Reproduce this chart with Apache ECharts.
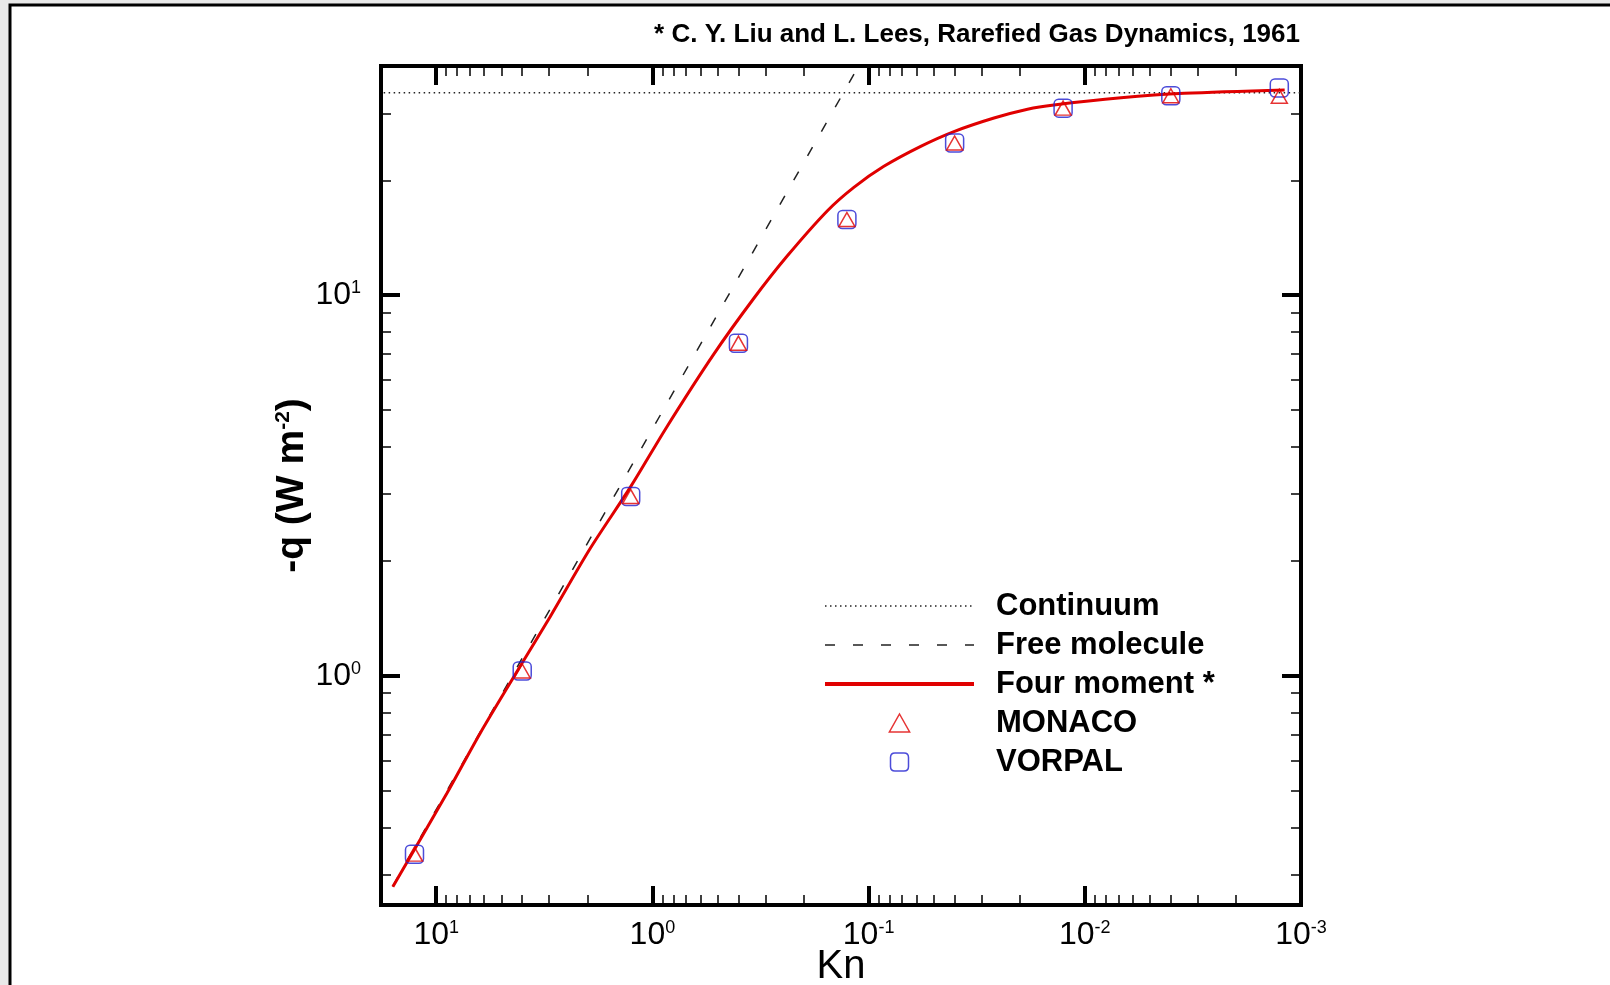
<!DOCTYPE html>
<html><head><meta charset="utf-8">
<script src="https://cdn.jsdelivr.net/npm/echarts@6/dist/echarts.min.js"></script>
<style>html,body{margin:0;padding:0;background:#fff}#c{width:1610px;height:985px}</style>
</head><body><div id="c"></div><script>
// ---- tick labels / tick positions ----
const xMajor = [10, 1, 0.1, 0.01, 0.001];
const xMajorExp = ['1', '0', '-1', '-2', '-3'];
const xMinor = [0.002,0.003,0.004,0.005,0.006,0.007,0.008,0.009,
                0.02,0.03,0.04,0.05,0.06,0.07,0.08,0.09,
                0.2,0.3,0.4,0.5,0.6,0.7,0.8,0.9,
                2,3,4,5,6,7,8,9];
const yMajor = [1, 10];
const yMajorExp = ['0', '1'];
const yMinor = [0.3,0.4,0.5,0.6,0.7,0.8,0.9,2,3,4,5,6,7,8,9,20,30];

// ---- data ----
const knPoints = [12.6, 4.0, 1.26, 0.40, 0.126, 0.040, 0.0126, 0.0040, 0.00126];
const monacoQ  = [0.340, 1.03, 2.96, 7.48, 15.8, 25.1, 31.0, 33.4, 33.3];
const vorpalQ  = [0.340, 1.03, 2.96, 7.48, 15.8, 25.1, 31.0, 33.4, 35.0];
const fourMomentKn = [15.87, 8.92, 6.26, 4.01, 2.97, 1.94, 1.26, 0.855, 0.52, 0.34, 0.238, 0.155, 0.117, 0.085, 0.0574, 0.0403, 0.0263, 0.0184, 0.0139, 0.0068, 0.00347, 0.00119];
const fourMomentQ  = [0.279, 0.4915, 0.707, 1.079, 1.43, 2.16, 3.14, 4.52, 7.00, 9.80, 12.67, 16.67, 19.2, 21.8, 24.6, 26.9, 29.2, 30.8, 31.6, 33.0, 33.9, 34.6];
const continuumKn = [17.5, 0.001];
const continuumQ  = [34, 34];
const freeMolKn = [15.9, 0.1112];
const freeMolQ  = [0.28, 40];

const FONT = '"Liberation Sans", Arial, sans-serif';
const zip = (a, b) => a.map((v, i) => [v, b[i]]);
const expOf = (list, exps, v) => {
  let best = 0, d = Infinity;
  list.forEach((m, i) => { const dd = Math.abs(Math.log10(m) - Math.log10(v)); if (dd < d) { d = dd; best = i; } });
  return exps[best];
};
const richLbl = {
  b: {fontSize: 32, lineHeight: 32, fontFamily: FONT, color: '#000', verticalAlign: 'top'},
  s: {fontSize: 18, lineHeight: 18, fontFamily: FONT, color: '#000', verticalAlign: 'top'}
};

function axis(isX, pos, major, label, extra) {
  const a = {
    type: 'log', logBase: 10, position: pos,
    min: isX ? 0.001 : 0.25, max: isX ? 18 : 40,
    inverse: isX,
    axisLine: {show: false},
    splitLine: {show: false},
    axisTick: {
      show: true, inside: true,
      customValues: major ? (isX ? xMajor : yMajor) : (isX ? xMinor : yMinor),
      length: major ? 19 : 10,
      lineStyle: {color: '#000', width: major ? 4 : 1.5}
    },
    axisLabel: {show: false},
    silent: true
  };
  if (label) {
    a.axisLabel = {
      show: true,
      customValues: isX ? xMajor : yMajor,
      margin: isX ? 14 : 20,
      formatter: v => '{b|10}{s|' + (isX ? expOf(xMajor, xMajorExp, v) : expOf(yMajor, yMajorExp, v)) + '}',
      rich: richLbl
    };
  }
  return Object.assign(a, extra || {});
}

const hiddenDot = {color: 'rgba(0,0,0,0)', borderWidth: 0, opacity: 0};
const TRI_ICON = 'path://M9,0 L18,16 L0,16 Z';
const RR_ICON = 'path://M4.5,0 L13.5,0 Q18,0 18,4.5 L18,13.5 Q18,18 13.5,18 L4.5,18 Q0,18 0,13.5 L0,4.5 Q0,0 4.5,0 Z';

const chart = echarts.init(document.getElementById('c'), null, {renderer: 'canvas'});
chart.setOption({
  animation: false,
  backgroundColor: '#e9e9e9',
  graphic: [{
    type: 'rect', z: -100, silent: true,
    shape: {x: 10, y: 5, width: 1700, height: 1100},
    style: {fill: '#fff', stroke: '#000', lineWidth: 3}
  }],
  title: {
    text: '* C. Y. Liu and L. Lees, Rarefied Gas Dynamics, 1961',
    right: 310, top: 22, padding: 0,
    textStyle: {fontFamily: FONT, fontWeight: 'bold', fontSize: 26, color: '#000'}
  },
  grid: {
    left: 381, top: 66, width: 920, height: 839,
    containLabel: false, outerBoundsMode: 'none',
    show: true, borderColor: '#000', borderWidth: 4, backgroundColor: 'transparent'
  },
  xAxis: [
    axis(true, 'bottom', true, true, {
      name: 'Kn', nameLocation: 'middle', nameGap: 42, nameMoveOverlap: false,
      nameTextStyle: {fontFamily: FONT, fontSize: 40, lineHeight: 40, color: '#000'}
    }),
    axis(true, 'bottom', false, false),
    axis(true, 'top', true, false),
    axis(true, 'top', false, false)
  ],
  yAxis: [
    axis(false, 'left', true, true, {
      name: '{a|-q (W m}{s|-2}{a|)}', nameLocation: 'middle', nameGap: 68, nameRotate: 90, nameMoveOverlap: false,
      nameTextStyle: {
        fontFamily: FONT, fontSize: 39, color: '#000',
        rich: {
          a: {fontFamily: FONT, fontSize: 39, fontWeight: 'bold', lineHeight: 40, color: '#000', verticalAlign: 'top'},
          s: {fontFamily: FONT, fontSize: 21, fontWeight: 'bold', lineHeight: 21, color: '#000', verticalAlign: 'top'}
        }
      }
    }),
    axis(false, 'left', false, false),
    axis(false, 'right', true, false),
    axis(false, 'right', false, false)
  ],
  legend: {
    orient: 'vertical', left: 823, top: 589, padding: 0,
    itemWidth: 149, itemHeight: 18, itemGap: 5, selectedMode: false,
    symbolKeepAspect: true,
    textStyle: {fontFamily: FONT, fontWeight: 'bold', fontSize: 31, lineHeight: 34, color: '#000', padding: [0, 0, 0, 17]},
    data: [
      {name: 'Continuum', lineStyle: {width: 1.5}, itemStyle: hiddenDot},
      {name: 'Free molecule', lineStyle: {width: 1.5}, itemStyle: hiddenDot},
      {name: 'Four moment *', lineStyle: {width: 4}, itemStyle: hiddenDot},
      {name: 'MONACO', icon: TRI_ICON, itemStyle: {color: 'rgba(0,0,0,0)', borderColor: '#e00000', borderWidth: 1.5}},
      {name: 'VORPAL', icon: RR_ICON, itemStyle: {color: 'rgba(0,0,0,0)', borderColor: '#1f1fd0', borderWidth: 1.5}}
    ]
  },
  series: [
    {
      name: 'Continuum', type: 'line', symbol: 'none', silent: true,
      data: zip(continuumKn, continuumQ),
      lineStyle: {color: '#222', width: 1.5, type: [1.5, 3.5]}, itemStyle: {color: '#222'}
    },
    {
      name: 'Free molecule', type: 'line', symbol: 'none', silent: true,
      data: zip(freeMolKn, freeMolQ),
      lineStyle: {color: '#222', width: 1.5, type: [10, 18]}, itemStyle: {color: '#222'}
    },
    {
      name: 'Four moment *', type: 'line', symbol: 'none', smooth: 0.3, silent: true,
      data: zip(fourMomentKn, fourMomentQ),
      lineStyle: {color: '#e00000', width: 3}, itemStyle: {color: '#e00000'}
    },
    {
      name: 'VORPAL', type: 'scatter', symbol: 'roundRect', symbolSize: 18, z: 5, silent: true,
      data: zip(knPoints, vorpalQ),
      itemStyle: {color: 'rgba(0,0,0,0)', borderColor: '#1f1fd0', borderWidth: 1.5}
    },
    {
      name: 'MONACO', type: 'scatter', symbol: 'triangle', symbolSize: [16, 14], z: 6, silent: true,
      data: zip(knPoints, monacoQ),
      itemStyle: {color: 'rgba(0,0,0,0)', borderColor: '#e00000', borderWidth: 1.5}
    }
  ]
});
</script></body></html>
